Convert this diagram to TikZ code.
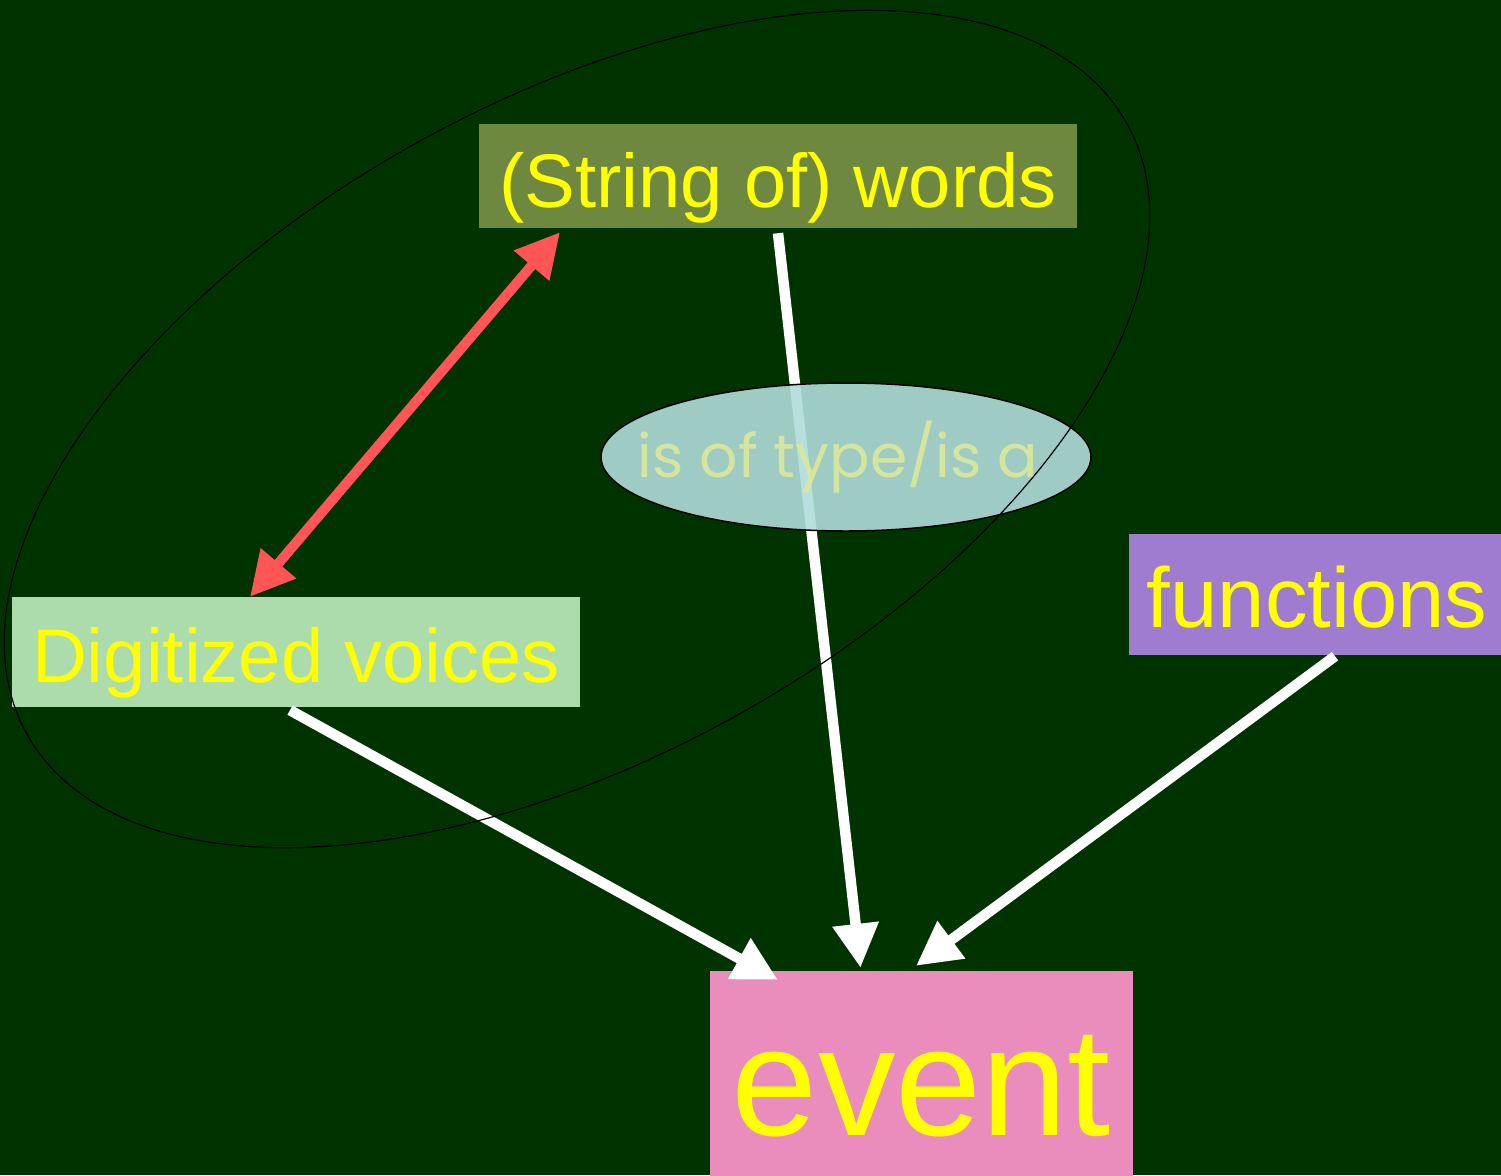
\documentclass[tikz,border=0pt]{standalone}
\usepackage{fontspec}
\setmainfont{Liberation Sans}
\newfontfamily\isafont{Poppins}
\usetikzlibrary{arrows.meta,shapes.geometric,calc}
\definecolor{bgc}{HTML}{003300}
\definecolor{wordsc}{HTML}{6F8840}
\definecolor{digitc}{HTML}{ACDCAC}
\definecolor{funcc}{HTML}{A07CD0}
\definecolor{eventc}{HTML}{EA8CBC}
\definecolor{isac}{HTML}{B0DCDA}
\definecolor{isatextc}{HTML}{DCE89A}
\definecolor{redc}{HTML}{FF5555}
\definecolor{txt}{HTML}{FFFF00}
\tikzset{
  box/.style={rectangle, inner sep=0pt, anchor=base, text=txt, align=center},
  whitearrow/.style={draw=white, line width=10.5pt, -{Triangle[length=44pt,width=44pt]}},
  redarrow/.style={draw=redc, line width=10pt, {Triangle[length=44pt,width=44pt]}-{Triangle[length=44pt,width=44pt]}}
}
\begin{document}
\begin{tikzpicture}[x=1pt,y=-1pt]
\fill[bgc] (0,0) rectangle (1501,1175);
\useasboundingbox (0,0) rectangle (1501,1175);
\clip (0,0) rectangle (1501,1175);

% boxes
\node[box, fill=wordsc, minimum width=598pt, text height=83pt, text depth=21pt,
      font=\fontsize{76}{80}\selectfont] (words) at (778,207) {(String of) words};
\node[box, fill=digitc, minimum width=568pt, text height=85pt, text depth=25pt,
      font=\fontsize{76}{80}\selectfont] (digit) at (296,682) {Digitized voices};
\node[box, fill=funcc, minimum width=376pt, text height=93pt, text depth=28pt,
      font=\fontsize{85}{90}\selectfont] (func) at (1317,627) {functions};
\node[box, fill=eventc, minimum width=423pt, text height=164pt, text depth=50pt,
      font=\fontsize{155}{160}\selectfont] (event) at (921.5,1135) {event};

% connectors
\draw[redarrow] ($(digit.north)+(-46,0)$) -- ($(words.south)+(-218,4)$);
\draw[whitearrow] ($(words.south)+(0,5)$) -- ($(event.north)+(-61,-3)$);
\draw[whitearrow] ($(digit.south)+(-6,3)$) -- ($(event.north west)+(68,9)$);
\draw[whitearrow] ($(func.south)+(18,1)$) -- ($(event.north)+(-5.5,-5)$);

% is-a ellipse
\node[ellipse, draw=black, line width=1.5pt, fill=isac, fill opacity=0.9,
      minimum width=490pt, minimum height=148pt, inner sep=0pt] (isa) at (846,457) {};
\node[anchor=base, inner sep=0pt, text=isatextc, text opacity=0.9,
      font=\isafont\fontsize{60}{64}\selectfont] (isalabel) at (838,477) {is of type/is a};

% grouping ellipse
\node[ellipse, draw=black, line width=1.2pt, rotate=29, minimum width=1258pt,
      minimum height=656pt, inner sep=0pt] (group) at (577,429) {};
\end{tikzpicture}
\end{document}
